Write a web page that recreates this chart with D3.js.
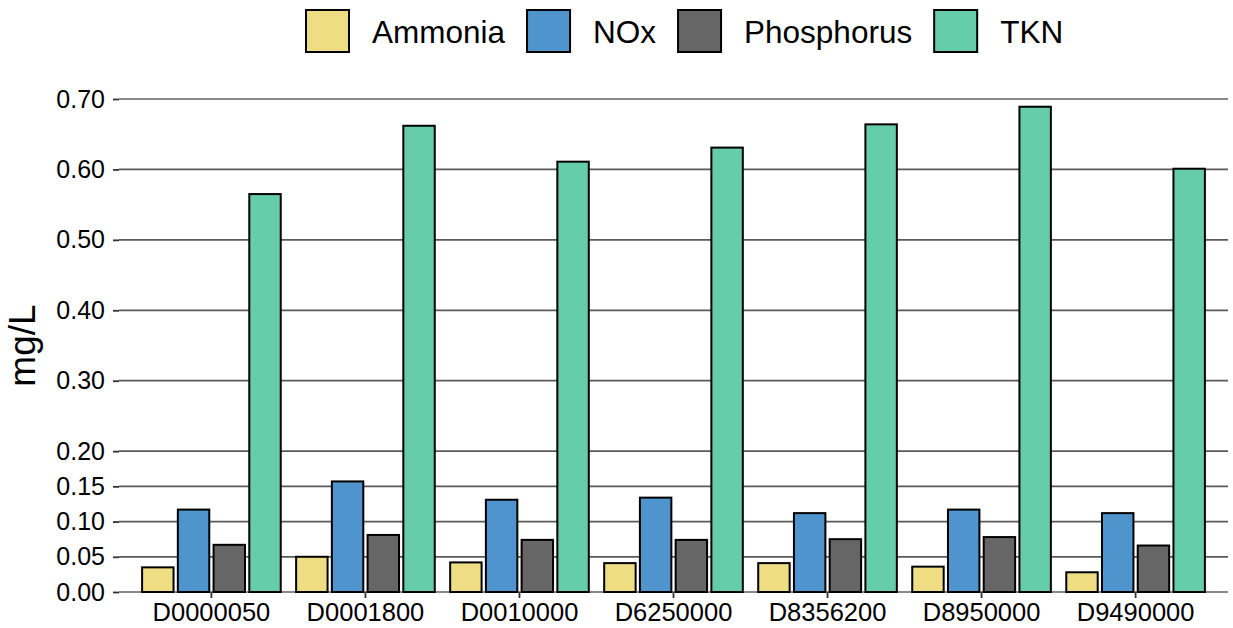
<!DOCTYPE html>
<html>
<head>
<meta charset="utf-8">
<script src="https://cdn.jsdelivr.net/npm/d3@7"></script>
<style>
  body { margin: 0; background: #fff; }
  text { font-family: "Liberation Sans", Arial, Helvetica, sans-serif; fill: #000; }
</style>
</head>
<body>
<div id="chart"></div>
<script>
const stations = ["D0000050", "D0001800", "D0010000", "D6250000", "D8356200", "D8950000", "D9490000"]
const parameters = ["Ammonia", "NOx", "Phosphorus", "TKN"]
const colors = ["#EEDD82", "#4F94CD", "#666666", "#66CDAA"]

const ammonia    = [0.035, 0.050, 0.042, 0.041, 0.041, 0.036, 0.028]
const nox        = [0.117, 0.157, 0.131, 0.134, 0.112, 0.117, 0.112]
const phosphorus = [0.067, 0.081, 0.074, 0.074, 0.075, 0.078, 0.066]
const tkn        = [0.565, 0.662, 0.611, 0.631, 0.664, 0.689, 0.601]

const yTicks = [0, 0.05, 0.10, 0.15, 0.20, 0.30, 0.40, 0.50, 0.60, 0.70]

const series = [ammonia, nox, phosphorus, tkn]
const data = stations.map((s, i) => ({
    station: s,
    values: parameters.map((p, j) => ({ key: p, value: series[j][i] }))
}))

const W = 1233, H = 628
const margin = ({top: 99, right: 5, bottom: 36, left: 119})
const width = W - margin.left - margin.right
const height = H - margin.top - margin.bottom

const svg = d3.select("#chart").append("svg")
    .attr("width", W)
    .attr("height", H)

const g = svg.append("g")
    .attr("transform", `translate(${margin.left},${margin.top})`)

const x0 = d3.scaleBand()
    .domain(stations)
    .range([0, width])
    .paddingInner(0)
    .paddingOuter(0.1)

const groupW = x0.bandwidth() * 0.9
const x1 = d3.scaleBand()
    .domain(parameters)
    .range([0, groupW])
    .paddingInner(0.12)

const y = d3.scaleLinear()
    .domain([0, 0.7])
    .range([height, 0])

const color = d3.scaleOrdinal().domain(parameters).range(colors)

// grid lines
g.append("g").attr("class", "grid")
    .selectAll("line")
    .data(yTicks)
    .join("line")
    .attr("x1", 0)
    .attr("x2", width)
    .attr("y1", d => y(d))
    .attr("y2", d => y(d))
    .attr("stroke", d => (d === 0 || d === 0.7) ? "#8a8a8a" : "#5a5a5a")
    .attr("stroke-width", 1.8)

// y axis
const yAxis = d3.axisLeft(y)
    .tickValues(yTicks)
    .tickFormat(d3.format(".2f"))
    .tickSize(6)
    .tickPadding(8)

g.append("g")
    .attr("class", "y-axis")
    .call(yAxis)
    .call(a => a.select(".domain").remove())
    .call(a => a.selectAll("line").attr("stroke", "#333").attr("stroke-width", 1.8))
    .call(a => a.selectAll("text").style("font-size", "25px").attr("fill", "#000"))

// bars
const groups = g.append("g").selectAll("g")
    .data(data)
    .join("g")
    .attr("transform", d => `translate(${x0(d.station) + (x0.bandwidth() - groupW) / 2},0)`)

groups.selectAll("rect")
    .data(d => d.values)
    .join("rect")
    .attr("x", d => x1(d.key))
    .attr("width", x1.bandwidth())
    .attr("y", d => y(d.value))
    .attr("height", d => y(0) - y(d.value))
    .attr("fill", d => color(d.key))
    .attr("stroke", "#000")
    .attr("stroke-width", 2)

// x axis
const xAxis = d3.axisBottom(x0)
    .tickSize(6)
    .tickPadding(5)

g.append("g")
    .attr("class", "x-axis")
    .attr("transform", `translate(0,${height})`)
    .call(xAxis)
    .call(a => a.select(".domain").remove())
    .call(a => a.selectAll("line").attr("stroke", "#333").attr("stroke-width", 1.8))
    .call(a => a.selectAll("text").style("font-size", "25.5px").attr("fill", "#000"))

// y title
svg.append("text")
    .attr("transform", `translate(35,${margin.top + height / 2}) rotate(-90)`)
    .attr("text-anchor", "middle")
    .style("font-size", "37px")
    .text("mg/L")

// legend
const legend = svg.append("g").attr("class", "legend")
let lx = 306
parameters.forEach((p, i) => {
    const item = legend.append("g").attr("transform", `translate(${lx},0)`)
    item.append("rect")
        .attr("x", 0)
        .attr("y", 10)
        .attr("width", 43)
        .attr("height", 42)
        .attr("fill", color(p))
        .attr("stroke", "#000")
        .attr("stroke-width", 2)
    const t = item.append("text")
        .attr("x", 66)
        .attr("y", 43)
        .style("font-size", "31.5px")
        .text(p)
    lx += 66 + t.node().getComputedTextLength() + 22
})
</script>
</body>
</html>
